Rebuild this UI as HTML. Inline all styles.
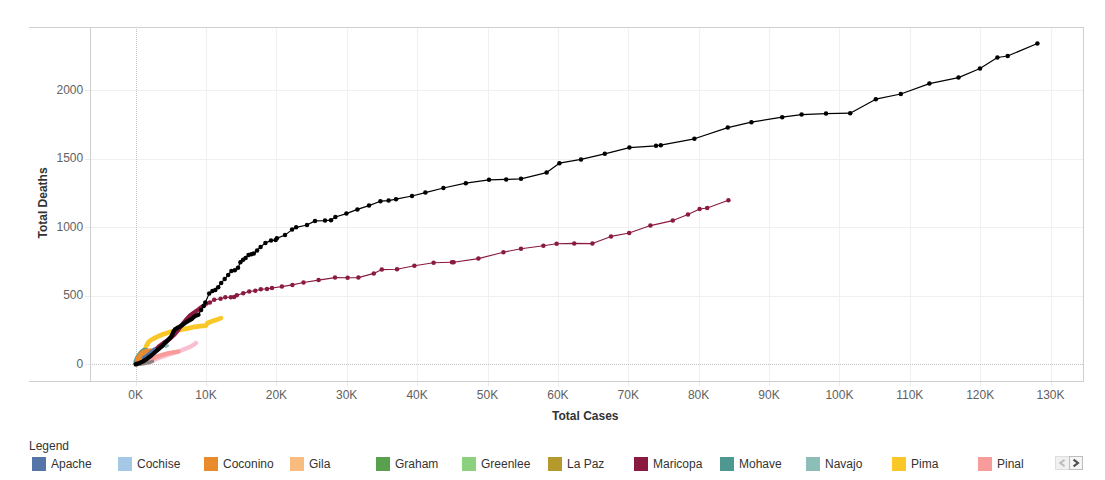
<!DOCTYPE html>
<html><head><meta charset="utf-8"><title>Total Deaths vs Total Cases</title>
<style>
html,body{margin:0;padding:0;background:#fff;}
body{width:1105px;height:480px;overflow:hidden;position:relative;font-family:"Liberation Sans",sans-serif;}
svg{position:absolute;left:0;top:0;display:block;}
svg text{font-family:"Liberation Sans",sans-serif;font-size:12px;}
.tk{fill:#616161;}
.lg{fill:#333;}
.ti{fill:#333;font-weight:bold;}
</style></head><body>
<svg width="1105" height="480" viewBox="0 0 1105 480">

<g shape-rendering="crispEdges" stroke="#f0f0f0" stroke-width="1">
<line x1="206.5" y1="28" x2="206.5" y2="381"/>
<line x1="276.5" y1="28" x2="276.5" y2="381"/>
<line x1="347.5" y1="28" x2="347.5" y2="381"/>
<line x1="417.5" y1="28" x2="417.5" y2="381"/>
<line x1="488.5" y1="28" x2="488.5" y2="381"/>
<line x1="558.5" y1="28" x2="558.5" y2="381"/>
<line x1="628.5" y1="28" x2="628.5" y2="381"/>
<line x1="699.5" y1="28" x2="699.5" y2="381"/>
<line x1="769.5" y1="28" x2="769.5" y2="381"/>
<line x1="839.5" y1="28" x2="839.5" y2="381"/>
<line x1="910.5" y1="28" x2="910.5" y2="381"/>
<line x1="980.5" y1="28" x2="980.5" y2="381"/>
<line x1="1051.5" y1="28" x2="1051.5" y2="381"/>
<line x1="91" y1="296.5" x2="1083" y2="296.5"/>
<line x1="91" y1="227.5" x2="1083" y2="227.5"/>
<line x1="91" y1="159.5" x2="1083" y2="159.5"/>
<line x1="91" y1="90.5" x2="1083" y2="90.5"/>
</g>
<g shape-rendering="crispEdges" stroke="#c2c2c2" stroke-width="1" stroke-dasharray="1,1">
<line x1="136.5" y1="29" x2="136.5" y2="381"/>
<line x1="92" y1="364.5" x2="1083" y2="364.5"/>
</g>
<g shape-rendering="crispEdges" stroke="#ebebeb" stroke-width="1">
<line x1="136.5" y1="382" x2="136.5" y2="386"/>
<line x1="206.5" y1="382" x2="206.5" y2="386"/>
<line x1="276.5" y1="382" x2="276.5" y2="386"/>
<line x1="347.5" y1="382" x2="347.5" y2="386"/>
<line x1="417.5" y1="382" x2="417.5" y2="386"/>
<line x1="488.5" y1="382" x2="488.5" y2="386"/>
<line x1="558.5" y1="382" x2="558.5" y2="386"/>
<line x1="628.5" y1="382" x2="628.5" y2="386"/>
<line x1="699.5" y1="382" x2="699.5" y2="386"/>
<line x1="769.5" y1="382" x2="769.5" y2="386"/>
<line x1="839.5" y1="382" x2="839.5" y2="386"/>
<line x1="910.5" y1="382" x2="910.5" y2="386"/>
<line x1="980.5" y1="382" x2="980.5" y2="386"/>
<line x1="1051.5" y1="382" x2="1051.5" y2="386"/>
<line x1="85" y1="364.5" x2="90" y2="364.5"/>
<line x1="85" y1="296.5" x2="90" y2="296.5"/>
<line x1="85" y1="227.5" x2="90" y2="227.5"/>
<line x1="85" y1="159.5" x2="90" y2="159.5"/>
<line x1="85" y1="90.5" x2="90" y2="90.5"/>
</g>
<g shape-rendering="crispEdges" stroke="#cfcfcf" stroke-width="1" fill="none">
<line x1="29" y1="27.5" x2="1084" y2="27.5"/>
<line x1="29" y1="381.5" x2="1084" y2="381.5"/>
<line x1="90.5" y1="27" x2="90.5" y2="382"/>
<line x1="1083.5" y1="27" x2="1083.5" y2="382"/>
</g>
<text class="tk" x="135.6" y="399" text-anchor="middle">0K</text>
<text class="tk" x="206.0" y="399" text-anchor="middle">10K</text>
<text class="tk" x="276.4" y="399" text-anchor="middle">20K</text>
<text class="tk" x="346.7" y="399" text-anchor="middle">30K</text>
<text class="tk" x="417.1" y="399" text-anchor="middle">40K</text>
<text class="tk" x="487.5" y="399" text-anchor="middle">50K</text>
<text class="tk" x="557.9" y="399" text-anchor="middle">60K</text>
<text class="tk" x="628.3" y="399" text-anchor="middle">70K</text>
<text class="tk" x="698.6" y="399" text-anchor="middle">80K</text>
<text class="tk" x="769.0" y="399" text-anchor="middle">90K</text>
<text class="tk" x="839.4" y="399" text-anchor="middle">100K</text>
<text class="tk" x="909.8" y="399" text-anchor="middle">110K</text>
<text class="tk" x="980.2" y="399" text-anchor="middle">120K</text>
<text class="tk" x="1050.5" y="399" text-anchor="middle">130K</text>
<text class="tk" x="83.2" y="367.9" text-anchor="end">0</text>
<text class="tk" x="83.2" y="299.4" text-anchor="end">500</text>
<text class="tk" x="83.2" y="230.9" text-anchor="end">1000</text>
<text class="tk" x="83.2" y="162.4" text-anchor="end">1500</text>
<text class="tk" x="83.2" y="93.9" text-anchor="end">2000</text>
<text class="ti" x="585.3" y="420" text-anchor="middle">Total Cases</text>
<text class="ti" transform="translate(47.3,203) rotate(-90)" text-anchor="middle">Total Deaths</text>
<polyline points="137.0,364.0 146.0,362.2 153.0,360.2 160.0,357.4 167.6,354.8 175.0,352.6 181.0,350.5 186.6,348.2 191.3,346.2 194.0,344.5 196.0,343.0" fill="none" stroke="#f9bfd0" stroke-width="4.4" stroke-linecap="round" stroke-linejoin="round"/>
<polyline points="137.0,363.5 145.0,361.0 151.7,358.6 159.7,355.6 167.6,353.4 173.0,352.4 178.3,351.6" fill="none" stroke="#f89c9b" stroke-width="4.4" stroke-linecap="round" stroke-linejoin="round"/>
<polyline points="137.0,364.0 140.5,360.0 143.0,355.0 144.8,350.0 146.5,345.5 148.6,342.0 151.0,340.0 154.5,338.2 157.8,336.5 164.0,333.9 170.2,332.1 173.4,331.2 178.0,330.2 185.0,328.9 190.0,327.9 195.0,326.8 200.0,326.1 205.8,325.6 207.6,323.0 210.0,322.0 213.5,320.8 217.0,319.6 221.0,318.1" fill="none" stroke="#f9c727" stroke-width="4.7" stroke-linecap="round" stroke-linejoin="round"/>
<polyline points="137.0,364.5 145.0,363.4 149.0,362.6 152.5,361.3" fill="none" stroke="#8a8380" stroke-width="3.5" stroke-linecap="round" stroke-linejoin="round"/>
<polyline points="165.8,346.8 167.8,345.6" fill="none" stroke="#86bcb6" stroke-width="2.4" stroke-linecap="round" stroke-linejoin="round"/>
<polyline points="135.6,363.6 142.0,360.3 147.0,357.2 151.7,353.2 155.6,349.6 159.6,345.9 164.6,342.2 169.7,338.9 174.0,335.0 178.0,330.4 182.0,324.6 185.8,320.0 189.6,315.8 192.4,313.8 196.6,310.8 199.8,308.3 202.5,306.4 204.7,304.9" fill="none" stroke="#8b1a41" stroke-width="4.2" stroke-linecap="round" stroke-linejoin="round"/>
<polyline points="204.7,304.9 206.6,303.5 209.9,302.4 214.2,299.8 220.6,298.7 225.3,297.3 230.8,297.3 234.1,297.0 236.8,295.3 243.2,293.2 249.2,291.4 255.3,290.8 260.8,289.3 267.0,288.9 272.0,288.0 281.9,286.6 292.4,284.9 303.5,282.5 318.6,280.1 335.0,277.6 347.6,277.8 358.4,277.6 373.8,273.4 381.8,269.6 397.0,269.2 414.4,265.8 433.6,262.8 452.0,262.2 453.6,262.2 478.4,258.6 503.4,252.2 521.0,248.8 543.4,245.8 556.6,243.8 574.2,243.4 592.4,243.6 611.0,236.4 629.2,233.0 650.4,225.6 672.8,220.6 688.0,214.4 699.6,209.0 707.2,208.0 728.4,200.2" fill="none" stroke="#8b1a41" stroke-width="1.1" stroke-linejoin="round"/>
<circle cx="206.6" cy="303.5" r="2.25" fill="#8b1a41"/><circle cx="209.9" cy="302.4" r="2.25" fill="#8b1a41"/><circle cx="214.2" cy="299.8" r="2.25" fill="#8b1a41"/><circle cx="220.6" cy="298.7" r="2.25" fill="#8b1a41"/><circle cx="225.3" cy="297.3" r="2.25" fill="#8b1a41"/><circle cx="230.8" cy="297.3" r="2.25" fill="#8b1a41"/><circle cx="234.1" cy="297.0" r="2.25" fill="#8b1a41"/><circle cx="236.8" cy="295.3" r="2.25" fill="#8b1a41"/><circle cx="243.2" cy="293.2" r="2.25" fill="#8b1a41"/><circle cx="249.2" cy="291.4" r="2.25" fill="#8b1a41"/><circle cx="255.3" cy="290.8" r="2.25" fill="#8b1a41"/><circle cx="260.8" cy="289.3" r="2.25" fill="#8b1a41"/><circle cx="267.0" cy="288.9" r="2.25" fill="#8b1a41"/><circle cx="272.0" cy="288.0" r="2.25" fill="#8b1a41"/><circle cx="281.9" cy="286.6" r="2.25" fill="#8b1a41"/><circle cx="292.4" cy="284.9" r="2.25" fill="#8b1a41"/><circle cx="303.5" cy="282.5" r="2.25" fill="#8b1a41"/><circle cx="318.6" cy="280.1" r="2.25" fill="#8b1a41"/><circle cx="335.0" cy="277.6" r="2.25" fill="#8b1a41"/><circle cx="347.6" cy="277.8" r="2.25" fill="#8b1a41"/><circle cx="358.4" cy="277.6" r="2.25" fill="#8b1a41"/><circle cx="373.8" cy="273.4" r="2.25" fill="#8b1a41"/><circle cx="381.8" cy="269.6" r="2.25" fill="#8b1a41"/><circle cx="397.0" cy="269.2" r="2.25" fill="#8b1a41"/><circle cx="414.4" cy="265.8" r="2.25" fill="#8b1a41"/><circle cx="433.6" cy="262.8" r="2.25" fill="#8b1a41"/><circle cx="452.0" cy="262.2" r="2.25" fill="#8b1a41"/><circle cx="453.6" cy="262.2" r="2.25" fill="#8b1a41"/><circle cx="478.4" cy="258.6" r="2.25" fill="#8b1a41"/><circle cx="503.4" cy="252.2" r="2.25" fill="#8b1a41"/><circle cx="521.0" cy="248.8" r="2.25" fill="#8b1a41"/><circle cx="543.4" cy="245.8" r="2.25" fill="#8b1a41"/><circle cx="556.6" cy="243.8" r="2.25" fill="#8b1a41"/><circle cx="574.2" cy="243.4" r="2.25" fill="#8b1a41"/><circle cx="592.4" cy="243.6" r="2.25" fill="#8b1a41"/><circle cx="611.0" cy="236.4" r="2.25" fill="#8b1a41"/><circle cx="629.2" cy="233.0" r="2.25" fill="#8b1a41"/><circle cx="650.4" cy="225.6" r="2.25" fill="#8b1a41"/><circle cx="672.8" cy="220.6" r="2.25" fill="#8b1a41"/><circle cx="688.0" cy="214.4" r="2.25" fill="#8b1a41"/><circle cx="699.6" cy="209.0" r="2.25" fill="#8b1a41"/><circle cx="707.2" cy="208.0" r="2.25" fill="#8b1a41"/><circle cx="728.4" cy="200.2" r="2.25" fill="#8b1a41"/>
<polyline points="134.6,362.0 136.0,358.0 138.5,354.0 141.0,351.0 143.5,349.3 146.0,349.0" fill="none" stroke="#499894" stroke-width="2.4" stroke-linecap="round" stroke-linejoin="round"/>
<polygon points="135.3,360.5 136.9,356.9 139.4,353.4 142.5,350.6 146.2,349.4 151.2,349.0 150.0,352.0 146.0,356.0 140.0,361.5" fill="#e98b2b" stroke="#e98b2b" stroke-width="1.5" stroke-linejoin="round"/>
<polyline points="144.0,357.9 146.5,356.2 150.4,353.1 154.6,349.5" fill="none" stroke="#5575a8" stroke-width="4.4" stroke-linecap="round" stroke-linejoin="round"/>
<polyline points="198.5,314.7 201.1,309.9 203.7,305.9 205.3,302.4 209.2,293.4 212.4,291.0 215.3,290.0 218.2,287.2 221.2,282.9 224.7,279.1 228.2,274.9 231.4,271.0 234.8,270.2 238.0,267.7 240.4,262.2 243.1,259.8 245.6,258.0 248.5,254.9 251.3,254.3 253.8,253.6 257.1,250.5 260.6,247.0 265.4,242.9 271.0,240.6 275.6,240.1 276.9,238.3 285.0,235.1 292.1,229.6 296.1,227.3 307.0,225.0 315.0,220.9 325.0,220.6 331.0,220.2 335.4,217.0 346.4,213.6 357.4,209.4 369.0,205.6 380.4,201.2 388.6,200.6 396.0,199.2 412.0,196.0 425.4,192.6 443.4,188.0 465.8,183.2 489.0,179.8 506.2,179.4 521.0,178.8 546.6,172.6 559.4,163.2 581.0,159.4 604.8,153.8 629.4,147.6 656.0,145.8 660.8,145.2 694.4,138.8 727.8,127.6 751.4,122.2 782.2,117.2 801.6,114.6 826.0,113.6 850.2,113.2 875.8,99.2 900.8,94.0 929.4,83.6 958.5,77.6 980.0,68.5 997.4,57.5 1007.7,56.0 1037.4,43.5" fill="none" stroke="#000" stroke-width="1.2" stroke-linejoin="round"/>
<polyline points="135.6,364.4 139.0,363.3 142.5,361.6 147.0,358.8 151.9,355.0 156.2,351.2 159.4,348.3 162.5,345.8 164.4,343.6 167.5,340.6 170.0,338.0 171.6,336.2 172.6,334.0 173.4,331.8 175.0,329.4 177.5,327.8 179.4,326.9 182.3,325.2 185.4,322.6 188.4,320.8 191.5,319.1 195.0,316.0 198.5,314.7" fill="none" stroke="#000" stroke-width="4.3" stroke-linecap="round" stroke-linejoin="round"/>
<circle cx="201.1" cy="309.9" r="2.25" fill="#000"/><circle cx="203.7" cy="305.9" r="2.25" fill="#000"/><circle cx="205.3" cy="302.4" r="2.25" fill="#000"/><circle cx="209.2" cy="293.4" r="2.25" fill="#000"/><circle cx="212.4" cy="291.0" r="2.25" fill="#000"/><circle cx="215.3" cy="290.0" r="2.25" fill="#000"/><circle cx="218.2" cy="287.2" r="2.25" fill="#000"/><circle cx="221.2" cy="282.9" r="2.25" fill="#000"/><circle cx="224.7" cy="279.1" r="2.25" fill="#000"/><circle cx="228.2" cy="274.9" r="2.25" fill="#000"/><circle cx="231.4" cy="271.0" r="2.25" fill="#000"/><circle cx="234.8" cy="270.2" r="2.25" fill="#000"/><circle cx="238.0" cy="267.7" r="2.25" fill="#000"/><circle cx="240.4" cy="262.2" r="2.25" fill="#000"/><circle cx="243.1" cy="259.8" r="2.25" fill="#000"/><circle cx="245.6" cy="258.0" r="2.25" fill="#000"/><circle cx="248.5" cy="254.9" r="2.25" fill="#000"/><circle cx="251.3" cy="254.3" r="2.25" fill="#000"/><circle cx="253.8" cy="253.6" r="2.25" fill="#000"/><circle cx="257.1" cy="250.5" r="2.25" fill="#000"/><circle cx="260.6" cy="247.0" r="2.25" fill="#000"/><circle cx="265.4" cy="242.9" r="2.25" fill="#000"/><circle cx="271.0" cy="240.6" r="2.25" fill="#000"/><circle cx="275.6" cy="240.1" r="2.25" fill="#000"/><circle cx="276.9" cy="238.3" r="2.25" fill="#000"/><circle cx="285.0" cy="235.1" r="2.25" fill="#000"/><circle cx="292.1" cy="229.6" r="2.25" fill="#000"/><circle cx="296.1" cy="227.3" r="2.25" fill="#000"/><circle cx="307.0" cy="225.0" r="2.25" fill="#000"/><circle cx="315.0" cy="220.9" r="2.25" fill="#000"/><circle cx="325.0" cy="220.6" r="2.25" fill="#000"/><circle cx="331.0" cy="220.2" r="2.25" fill="#000"/><circle cx="335.4" cy="217.0" r="2.25" fill="#000"/><circle cx="346.4" cy="213.6" r="2.25" fill="#000"/><circle cx="357.4" cy="209.4" r="2.25" fill="#000"/><circle cx="369.0" cy="205.6" r="2.25" fill="#000"/><circle cx="380.4" cy="201.2" r="2.25" fill="#000"/><circle cx="388.6" cy="200.6" r="2.25" fill="#000"/><circle cx="396.0" cy="199.2" r="2.25" fill="#000"/><circle cx="412.0" cy="196.0" r="2.25" fill="#000"/><circle cx="425.4" cy="192.6" r="2.25" fill="#000"/><circle cx="443.4" cy="188.0" r="2.25" fill="#000"/><circle cx="465.8" cy="183.2" r="2.25" fill="#000"/><circle cx="489.0" cy="179.8" r="2.25" fill="#000"/><circle cx="506.2" cy="179.4" r="2.25" fill="#000"/><circle cx="521.0" cy="178.8" r="2.25" fill="#000"/><circle cx="546.6" cy="172.6" r="2.25" fill="#000"/><circle cx="559.4" cy="163.2" r="2.25" fill="#000"/><circle cx="581.0" cy="159.4" r="2.25" fill="#000"/><circle cx="604.8" cy="153.8" r="2.25" fill="#000"/><circle cx="629.4" cy="147.6" r="2.25" fill="#000"/><circle cx="656.0" cy="145.8" r="2.25" fill="#000"/><circle cx="660.8" cy="145.2" r="2.25" fill="#000"/><circle cx="694.4" cy="138.8" r="2.25" fill="#000"/><circle cx="727.8" cy="127.6" r="2.25" fill="#000"/><circle cx="751.4" cy="122.2" r="2.25" fill="#000"/><circle cx="782.2" cy="117.2" r="2.25" fill="#000"/><circle cx="801.6" cy="114.6" r="2.25" fill="#000"/><circle cx="826.0" cy="113.6" r="2.25" fill="#000"/><circle cx="850.2" cy="113.2" r="2.25" fill="#000"/><circle cx="875.8" cy="99.2" r="2.25" fill="#000"/><circle cx="900.8" cy="94.0" r="2.25" fill="#000"/><circle cx="929.4" cy="83.6" r="2.25" fill="#000"/><circle cx="958.5" cy="77.6" r="2.25" fill="#000"/><circle cx="980.0" cy="68.5" r="2.25" fill="#000"/><circle cx="997.4" cy="57.5" r="2.25" fill="#000"/><circle cx="1007.7" cy="56.0" r="2.25" fill="#000"/><circle cx="1037.4" cy="43.5" r="2.25" fill="#000"/>
<text class="lg" x="29" y="450">Legend</text>
<rect x="32" y="457" width="14" height="14" fill="#5575a8" shape-rendering="crispEdges"/>
<text class="lg" x="51" y="468">Apache</text>
<rect x="118" y="457" width="14" height="14" fill="#a5c8e6" shape-rendering="crispEdges"/>
<text class="lg" x="137" y="468">Cochise</text>
<rect x="204" y="457" width="14" height="14" fill="#e98b2b" shape-rendering="crispEdges"/>
<text class="lg" x="223" y="468">Coconino</text>
<rect x="290" y="457" width="14" height="14" fill="#f8bd7e" shape-rendering="crispEdges"/>
<text class="lg" x="309" y="468">Gila</text>
<rect x="376" y="457" width="14" height="14" fill="#59a14f" shape-rendering="crispEdges"/>
<text class="lg" x="395" y="468">Graham</text>
<rect x="462" y="457" width="14" height="14" fill="#8cd17d" shape-rendering="crispEdges"/>
<text class="lg" x="481" y="468">Greenlee</text>
<rect x="548" y="457" width="14" height="14" fill="#b6992d" shape-rendering="crispEdges"/>
<text class="lg" x="567" y="468">La Paz</text>
<rect x="634" y="457" width="14" height="14" fill="#8b1a41" shape-rendering="crispEdges"/>
<text class="lg" x="653" y="468">Maricopa</text>
<rect x="720" y="457" width="14" height="14" fill="#4f9891" shape-rendering="crispEdges"/>
<text class="lg" x="739" y="468">Mohave</text>
<rect x="806" y="457" width="14" height="14" fill="#8cbdb6" shape-rendering="crispEdges"/>
<text class="lg" x="825" y="468">Navajo</text>
<rect x="892" y="457" width="14" height="14" fill="#f9c727" shape-rendering="crispEdges"/>
<text class="lg" x="911" y="468">Pima</text>
<rect x="978" y="457" width="14" height="14" fill="#f89c9b" shape-rendering="crispEdges"/>
<text class="lg" x="997" y="468">Pinal</text>
<g shape-rendering="crispEdges">
<rect x="1055.5" y="456.5" width="14" height="13" fill="#f0f0f0" stroke="#dedede"/>
<rect x="1069.5" y="456.5" width="13" height="13" fill="#f5f5f5" stroke="#bdbdbd"/>
</g>
<polyline points="1064.6,459.7 1060.3,463 1064.6,466.3" fill="none" stroke="#bcbcbc" stroke-width="2"/>
<polyline points="1073.6,459.7 1077.9,463 1073.6,466.3" fill="none" stroke="#505050" stroke-width="2.2"/>
</svg></body></html>
